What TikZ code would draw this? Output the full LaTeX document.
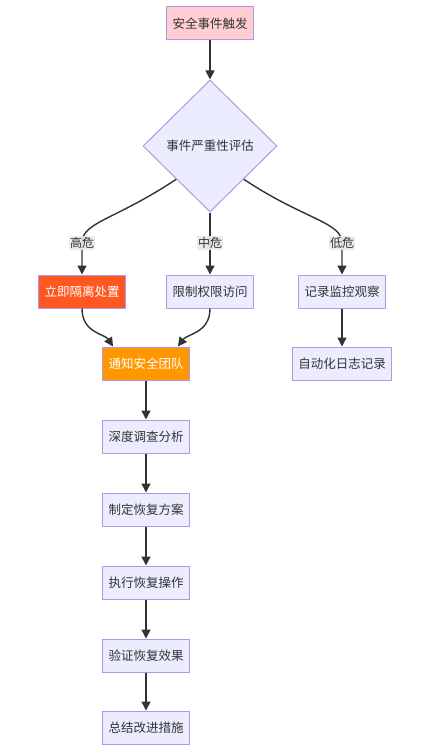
\documentclass[tikz,border=0pt]{standalone}
\usepackage{fontspec}
\setmainfont{Noto Sans CJK SC}
\usetikzlibrary{shapes.geometric,arrows.meta}
\definecolor{boxfill}{HTML}{ECECFF}
\definecolor{boxline}{HTML}{B197E6}
\definecolor{pinkfill}{HTML}{FFCDD2}
\definecolor{redfill}{HTML}{FF5722}
\definecolor{orgfill}{HTML}{FF9800}
\definecolor{txt}{HTML}{333333}
\definecolor{lblbg}{HTML}{E8E8E8}
\tikzset{
  box/.style={draw=boxline, line width=1pt, fill=boxfill, text=txt, font=\fontsize{12.5}{14}\selectfont,
    inner xsep=6pt, inner ysep=0pt, minimum height=33pt},
  dia/.style={diamond, aspect=1, draw=boxline, line width=1pt, fill=boxfill, text=txt,
    font=\fontsize{12.5}{14}\selectfont, minimum width=134pt, minimum height=132pt, inner sep=0pt},
  arr/.style={draw=txt, line width=1.4pt, -{Triangle[length=9pt,width=9pt]}},
  lbl/.style={fill=lblbg, fill opacity=0.9, text opacity=1, text=txt, font=\fontsize{12}{14}\selectfont, inner sep=1pt}
}
\begin{document}
\begin{tikzpicture}[x=1pt,y=-1pt]
\useasboundingbox (0,0) rectangle (423,752);
\fill[white] (0,0) rectangle (423,752);
\node[box, fill=pinkfill] (start) at (210,23.5) {安全事件触发};
\node[dia] (d) at (210,146) {事件严重性评估};
\node[box, fill=redfill, text=white] (b1) at (82,291.5) {立即隔离处置};
\node[box] (b2) at (210,291.5) {限制权限访问};
\node[box] (b3) at (342,291.5) {记录监控观察};
\node[box, fill=orgfill, text=white] (n) at (146,363.5) {通知安全团队};
\node[box] (auto) at (342,363.5) {自动化日志记录};
\node[box] (s1) at (146,436.5) {深度调查分析};
\node[box] (s2) at (146,509.5) {制定恢复方案};
\node[box] (s3) at (146,582.5) {执行恢复操作};
\node[box] (s4) at (146,655.5) {验证恢复效果};
\node[box] (s5) at (146,727.5) {总结改进措施};

\draw[arr] (start.south) -- (d.north);
\draw[arr] (d.south west) .. controls (115,220) and (82,222) .. (82,243) -- (b1.north);
\draw[arr] (d.south) -- (b2.north);
\draw[arr] (d.south east) .. controls (305,220) and (342,222) .. (342,243) -- (b3.north);
\draw[arr] (b1.south) .. controls (82,333) and (105,334) .. ([xshift=-33pt]n.north);
\draw[arr] (b2.south) .. controls (210,333) and (187,334) .. ([xshift=32pt]n.north);
\draw[arr] (b3.south) -- (auto.north);
\draw[arr] (n.south) -- (s1.north);
\draw[arr] (s1.south) -- (s2.north);
\draw[arr] (s2.south) -- (s3.north);
\draw[arr] (s3.south) -- (s4.north);
\draw[arr] (s4.south) -- (s5.north);

\node[lbl] (l1) at (82,243) {高危};
\node[lbl] (l2) at (210,243) {中危};
\node[lbl] (l3) at (342,243) {低危};
\end{tikzpicture}
\end{document}
